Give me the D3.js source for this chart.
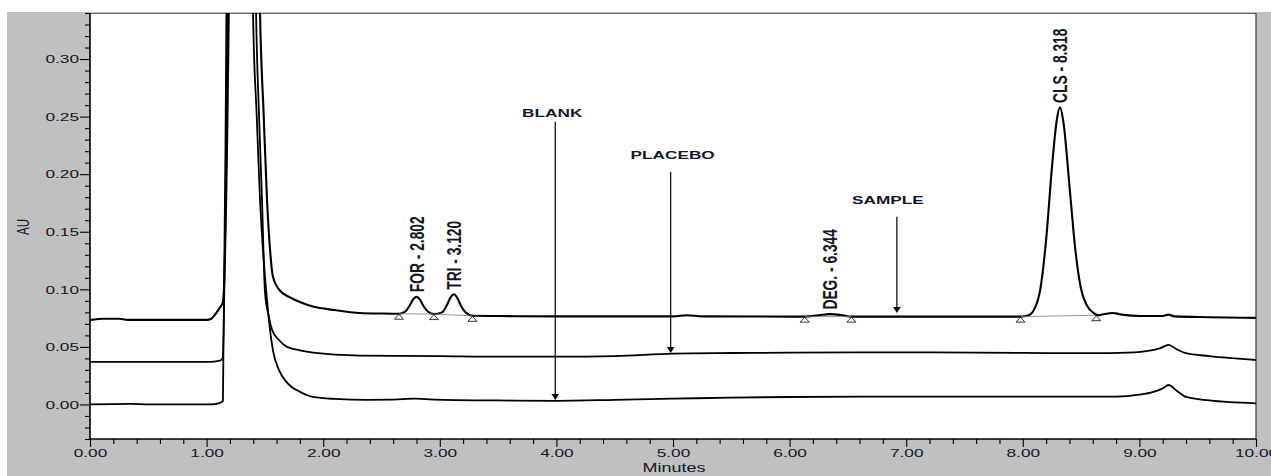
<!DOCTYPE html>
<html><head><meta charset="utf-8">
<script src="https://cdn.jsdelivr.net/npm/d3@7"></script>
<style>html,body{margin:0;padding:0;background:#fff;} svg{display:block;}</style>
</head><body><svg id="c" width="1271" height="476"></svg>
<script>
// ---- data (time in minutes, absorbance in AU) ----
const sampleTrace = [[0.00,0.0735],[0.12,0.0745],[0.25,0.0745],[0.32,0.0735],[0.60,0.0735],[1.00,0.0735],[1.04,0.0745],[1.08,0.079],[1.12,0.085],[1.14,0.089],[1.19,0.341],[1.31,2.5],[1.458,0.341],[1.49,0.25],[1.518,0.178],[1.54,0.140],[1.569,0.111],[1.62,0.100],[1.715,0.093],[1.80,0.089],[1.913,0.085],[2.10,0.082],[2.316,0.0795],[2.50,0.079],[2.65,0.0788],[2.70,0.0805],[2.74,0.0855],[2.77,0.091],[2.80,0.0936],[2.83,0.091],[2.86,0.0855],[2.90,0.0805],[2.95,0.0785],[3.02,0.080],[3.06,0.0862],[3.09,0.0925],[3.12,0.0957],[3.15,0.0925],[3.18,0.086],[3.22,0.080],[3.28,0.077],[3.50,0.0768],[4.00,0.0765],[4.50,0.0765],[5.00,0.0765],[5.12,0.0775],[5.25,0.0765],[6.00,0.0763],[6.13,0.0763],[6.25,0.0775],[6.344,0.0785],[6.44,0.0777],[6.53,0.0763],[7.00,0.0763],[7.50,0.0763],[7.98,0.0763],[8.05,0.0775],[8.10,0.083],[8.15,0.100],[8.20,0.143],[8.25,0.206],[8.29,0.246],[8.318,0.258],[8.35,0.244],[8.40,0.190],[8.45,0.135],[8.50,0.100],[8.55,0.086],[8.60,0.080],[8.65,0.0775],[8.70,0.0785],[8.77,0.0795],[8.85,0.078],[9.00,0.0768],[9.20,0.0768],[9.25,0.078],[9.30,0.0765],[9.60,0.0758],[10.00,0.0752]];
const placeboTrace = [[0.00,0.037],[0.50,0.037],[1.00,0.037],[1.08,0.0375],[1.115,0.038],[1.137,0.040],[1.18,0.341],[1.30,2.5],[1.424,0.341],[1.45,0.25],[1.475,0.178],[1.501,0.097],[1.53,0.078],[1.561,0.065],[1.62,0.056],[1.69,0.050],[1.80,0.047],[1.913,0.045],[2.316,0.0425],[3.00,0.042],[3.50,0.0415],[4.00,0.0415],[4.50,0.042],[5.00,0.0442],[5.50,0.0447],[6.00,0.045],[7.00,0.0452],[8.00,0.0448],[8.60,0.0445],[8.90,0.045],[9.10,0.047],[9.18,0.049],[9.25,0.0517],[9.32,0.048],[9.40,0.0445],[9.60,0.042],[10.00,0.0386]];
const blankTrace = [[0.00,0.000],[0.35,0.0005],[0.50,0.000],[1.00,0.000],[1.06,0.0002],[1.10,0.001],[1.14,0.0028],[1.17,0.341],[1.28,2.5],[1.398,0.341],[1.43,0.25],[1.458,0.178],[1.49,0.125],[1.518,0.091],[1.54,0.068],[1.569,0.047],[1.62,0.030],[1.69,0.019],[1.80,0.011],[1.913,0.0065],[2.10,0.0048],[2.376,0.004],[2.60,0.0042],[2.78,0.005],[2.95,0.0042],[3.50,0.0035],[4.00,0.0032],[4.50,0.004],[5.00,0.005],[5.50,0.006],[6.00,0.0065],[7.00,0.0068],[8.00,0.0068],[8.80,0.0068],[9.00,0.0085],[9.12,0.011],[9.20,0.014],[9.25,0.0169],[9.32,0.012],[9.40,0.0065],[9.60,0.0035],[10.00,0.001]];

const peakNames = ["FOR - 2.802","TRI - 3.120","DEG. - 6.344","CLS - 8.318"];
const peakTimes = [2.802, 3.120, 6.344, 8.318];
const peakAU    = [0.0936, 0.0957, 0.0785, 0.258];

const markerTimes = [2.65, 2.95, 3.28, 6.13, 6.53, 7.98, 8.63];
const markerAU    = [0.0788, 0.0785, 0.077, 0.0763, 0.0763, 0.0763, 0.0775];
const baselinePairs = [[0,1],[1,2],[3,4],[5,6]];

const arrowLabels = ["BLANK","PLACEBO","SAMPLE"];
const arrowTimes  = [3.99, 4.98, 6.92];
const arrowTipAU  = [0.0038, 0.0447, 0.0795];
const arrowTopAU  = [0.2456, 0.202, 0.163];
const arrowLabelAU= [0.253, 0.2167, 0.1776];

const xTickValues = [0,1,2,3,4,5,6,7,8,9,10];
const yTickValues = [0.00,0.05,0.10,0.15,0.20,0.25,0.30];

// ---- layout ----
const W = 1271, H = 476, SX = 1.5;
const FONT = '"Liberation Sans", Arial, Helvetica, sans-serif';
const TXT = '#15152a';
const L = 90, R = 1256, T = 13, B = 439;
const svg = d3.select('#c');
const x = d3.scaleLinear().domain([0,10]).range([L,R]);
const y = d3.scaleLinear().domain([-0.03,0.34]).range([B,T]);

svg.append('rect').attr('width',W).attr('height',H).attr('fill','#fff');
svg.append('rect').attr('x',7).attr('y',12).attr('width',W-7).attr('height',H-12).attr('fill','#c0c0c0');
svg.append('rect').attr('x',L).attr('y',T).attr('width',R-L).attr('height',B-T).attr('fill','#fff');

svg.append('defs').append('clipPath').attr('id','plot')
  .append('rect').attr('x',L).attr('y',T).attr('width',R-L).attr('height',B-T);

// minor ticks
const yMinor = d3.range(-3,35).map(v=>v/100).filter(v=>Math.round(v*100)%5!==0);
const gyMinor = svg.append('g').attr('transform',`translate(${L},0)`)
  .call(d3.axisLeft(y).tickValues(yMinor).tickSize(5).tickFormat(''));
gyMinor.select('.domain').remove();
const xMinor = d3.range(0,51).map(v=>v/5).filter(v=>Math.abs(v-Math.round(v))>1e-9);
const gxMinor = svg.append('g').attr('transform',`translate(0,${B})`)
  .call(d3.axisBottom(x).tickValues(xMinor).tickSize(5).tickFormat(''));
gxMinor.select('.domain').remove();

// major ticks
const gy = svg.append('g').attr('transform',`translate(${L},0)`)
  .call(d3.axisLeft(y).tickValues(yTickValues).tickSize(10).tickFormat(d3.format('.2f')));
gy.select('.domain').remove();
gy.selectAll('text').attr('x',-11/SX).attr('transform',`scale(${SX},1)`)
  .attr('fill',TXT).style('font-family',FONT).style('font-size','11.5px');
const gx = svg.append('g').attr('transform',`translate(0,${B})`)
  .call(d3.axisBottom(x).tickValues(xTickValues).tickSize(8).tickPadding(2).tickFormat(d3.format('.2f')));
gx.select('.domain').remove();
gx.selectAll('text').attr('transform',`scale(${SX},1)`)
  .attr('fill',TXT).style('font-family',FONT).style('font-size','11.5px');
svg.selectAll('.tick line').attr('stroke','#000').attr('stroke-width',1.1);

// frame
svg.append('line').attr('x1',L).attr('x2',R).attr('y1',T+0.5).attr('y2',T+0.5).attr('stroke','#666').attr('stroke-width',1);
svg.append('line').attr('x1',R).attr('x2',R).attr('y1',T).attr('y2',B).attr('stroke','#333').attr('stroke-width',1.2);
svg.append('line').attr('x1',L).attr('x2',L).attr('y1',T).attr('y2',B+1).attr('stroke','#000').attr('stroke-width',1.6);
svg.append('line').attr('x1',L).attr('x2',R).attr('y1',B).attr('y2',B).attr('stroke','#000').attr('stroke-width',1.6);

// traces
const line = d3.line().x(d=>x(d[0])).y(d=>y(d[1])).curve(d3.curveMonotoneX);
const gp = svg.append('g').attr('clip-path','url(#plot)');
[blankTrace, placeboTrace, sampleTrace].forEach((tr,i)=>{
  gp.append('path').datum(tr).attr('d',line).attr('fill','none')
    .attr('stroke','#000').attr('stroke-width', i===2 ? 2.1 : 1.8).attr('stroke-linejoin','round');
});

// integration baselines & markers
baselinePairs.forEach(([a,b])=>{
  gp.append('line').attr('x1',x(markerTimes[a])).attr('y1',y(markerAU[a]))
    .attr('x2',x(markerTimes[b])).attr('y2',y(markerAU[b]))
    .attr('stroke','#777').attr('stroke-width',0.8);
});
markerTimes.forEach((t,i)=>{
  const px = x(t), py = y(markerAU[i]) + 0.5;
  gp.append('path').attr('d',`M${px},${py} L${px-4.5},${py+5} L${px+4.5},${py+5} Z`)
    .attr('fill','#fff').attr('stroke','#000').attr('stroke-width',0.8);
});

// peak labels
peakNames.forEach((n,i)=>{
  svg.append('text').text(n)
    .attr('transform',`translate(${x(peakTimes[i])+7.2},${y(peakAU[i])-4.5}) scale(${SX},1) rotate(-90)`)
    .attr('fill',TXT).style('font-family',FONT).style('font-size','13.8px').style('font-weight','bold');
});

// arrows
const labelDx = [-3, 2, -9];
arrowLabels.forEach((lab,i)=>{
  const px = x(arrowTimes[i]);
  const tip = y(arrowTipAU[i]);
  svg.append('line').attr('x1',px).attr('x2',px).attr('y1',y(arrowTopAU[i])).attr('y2',tip-4)
    .attr('stroke','#000').attr('stroke-width',1.2);
  svg.append('path').attr('d',`M${px},${tip} L${px-3.8},${tip-6} L${px+3.8},${tip-6} Z`).attr('fill','#000');
  svg.append('text').text(lab).attr('text-anchor','middle').attr('dy','0.36em')
    .attr('transform',`translate(${px+labelDx[i]},${y(arrowLabelAU[i])}) scale(${SX},1)`)
    .attr('fill',TXT).style('font-family',FONT).style('font-size','11.5px').style('font-weight','bold');
});

// axis titles
svg.append('text').text('Minutes').attr('text-anchor','middle').attr('dy','0.36em')
  .attr('transform',`translate(674,468) scale(${SX},1)`)
  .attr('fill',TXT).style('font-family',FONT).style('font-size','12px');
svg.append('text').text('AU').attr('text-anchor','middle').attr('dy','0.36em')
  .attr('transform',`translate(23,227) scale(${SX},1) rotate(-90)`)
  .attr('fill',TXT).style('font-family',FONT).style('font-size','11.5px');
</script>
</body></html>
